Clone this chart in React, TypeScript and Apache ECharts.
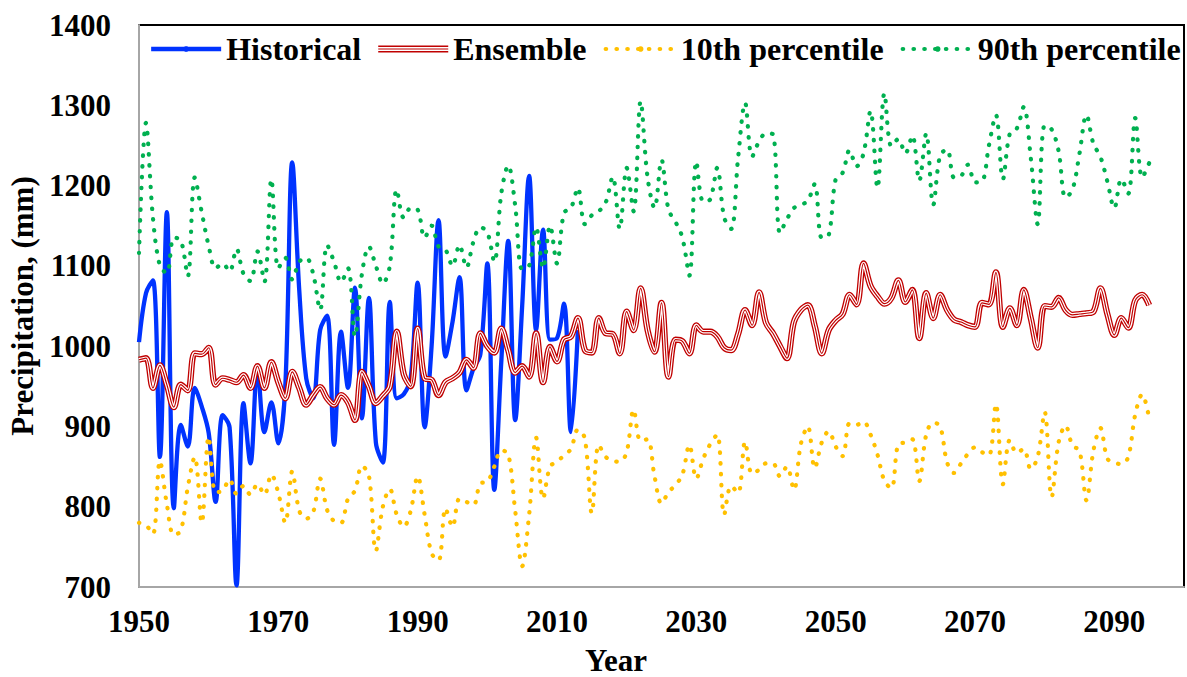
import React, { useEffect, useRef } from "react";
import * as echarts from "echarts";

const START_YEAR = 1950;

// Historical (1950–2013)
const historical = [
  1005, 1066, 1082, 862, 1167, 798, 902, 875, 948, 925,
  892, 806, 914, 899, 702, 929, 854, 974, 893, 930,
  879, 950, 1229, 1070, 960, 935, 1020, 1038, 877, 1018,
  948, 1073, 910, 1060, 880, 855, 1055, 935, 940, 960,
  1079, 899, 1000, 1157, 987, 1030, 1086, 945, 972, 990,
  1103, 821, 980, 1131, 908, 1050, 1212, 1020, 1145, 1008,
  1010, 1053, 893, 1020,
];

// Ensemble (1950–2095)
const ensemble = [
  983, 985, 948, 976, 952, 924, 952, 945, 991, 990,
  998, 952, 960, 958, 955, 964, 948, 975, 948, 980,
  955, 935, 968, 948, 927, 939, 949, 935, 927, 939,
  930, 908, 968, 950, 929, 938, 950, 1018, 965, 950,
  1022, 960, 958, 939, 955, 960, 967, 983, 973, 1016,
  1000, 992, 1022, 995, 967, 975, 962, 1016, 955, 999,
  981, 1008, 1012, 1035, 995, 992, 1035, 1016, 1015, 991,
  1043, 1020, 1072, 1020, 993, 1054, 962, 1008, 1006, 991,
  1026, 1018, 1018, 1012, 998, 995, 1015, 1045, 1026, 1067,
  1029, 1016, 1000, 985, 1030, 1045, 1051, 1025, 991, 1020,
  1032, 1040, 1064, 1052, 1103, 1075, 1062, 1053, 1060, 1082,
  1055, 1070, 1010, 1066, 1035, 1064, 1045, 1033, 1030, 1026,
  1024, 1054, 1052, 1092, 1024, 1047, 1026, 1070, 1035, 998,
  1050, 1049, 1060, 1045, 1039, 1040, 1041, 1043, 1072, 1040,
  1014, 1035, 1023, 1057, 1064, 1051,
];

// 10th percentile (1950–2095)
const p10 = [
  780, 777, 766, 857, 803, 765, 770, 824, 862, 780,
  887, 818, 820, 834, 816, 826, 815, 828, 815, 840,
  817, 780, 844, 795, 785, 793, 835, 796, 782, 780,
  810, 820, 851, 839, 745, 800, 822, 790, 775, 795,
  838, 790, 742, 733, 798, 775, 810, 806, 802, 829,
  831, 850, 870, 866, 795, 726, 790, 886, 810, 850,
  856, 864, 872, 896, 885, 792, 877, 862, 857, 856,
  868, 921, 882, 884, 838, 804, 818, 827, 840, 877,
  835, 860, 878, 890, 790, 826, 817, 881, 841, 846,
  854, 854, 838, 850, 821, 878, 900, 848, 880, 894,
  875, 863, 904, 902, 906, 890, 865, 832, 823, 878,
  880, 884, 832, 890, 905, 900, 855, 842, 854, 866,
  874, 868, 864, 928, 828, 883, 867, 872, 847, 862,
  918, 812, 880, 901, 876, 870, 808, 870, 898, 860,
  855, 853, 862, 915, 940, 910,
];

// 90th percentile (1950–2095)
const p90 = [
  1116, 1278, 1160, 1100, 1091, 1135, 1132, 1087, 1210, 1167,
  1125, 1097, 1103, 1093, 1121, 1090, 1081, 1118, 1080, 1208,
  1097, 1110, 1083, 1105, 1110, 1090, 1045, 1126, 1105, 1080,
  1097, 1012, 1090, 1124, 1100, 1078, 1100, 1195, 1160, 1172,
  1170, 1135, 1150, 1124, 1120, 1100, 1126, 1098, 1130, 1148,
  1142, 1105, 1190, 1225, 1175, 1096, 1100, 1148, 1097, 1150,
  1103, 1166, 1172, 1197, 1152, 1163, 1168, 1179, 1211, 1146,
  1222, 1168, 1305, 1210, 1172, 1232, 1170, 1155, 1135, 1088,
  1230, 1180, 1183, 1222, 1160, 1146, 1235, 1303, 1236, 1255,
  1265, 1264, 1141, 1158, 1172, 1176, 1181, 1202, 1135, 1138,
  1208, 1216, 1244, 1224, 1240, 1293, 1197, 1315, 1249, 1258,
  1240, 1262, 1206, 1265, 1176, 1238, 1245, 1210, 1212, 1226,
  1204, 1205, 1250, 1288, 1208, 1265, 1271, 1298, 1235, 1152,
  1275, 1270, 1243, 1185, 1195, 1240, 1288, 1252, 1236, 1205,
  1172, 1208, 1190, 1284, 1210, 1228,
];

const X_MIN = 1950;
const X_MAX = 2100;
const X_STEP = 20;
const Y_MIN = 700;
const Y_MAX = 1400;
const Y_STEP = 100;

const toPairs = (vals: number[]) => vals.map((v, i) => [START_YEAR + i, v]);

const FONT = "Liberation Serif";
const SMOOTH = 0.35;

export default function App() {
  const ref = useRef<HTMLDivElement>(null);

  useEffect(() => {
    document.body.style.margin = "0";
    const chart = echarts.init(ref.current as HTMLDivElement, null, { renderer: "svg" });
    const dotted = (color: string) => ({
      color,
      width: 4.2,
      type: [0.5, 10.3],
      cap: "round",
    });
    const plain = (v: number) => String(v);
    chart.setOption({
      animation: false,
      backgroundColor: "#ffffff",
      textStyle: { fontFamily: FONT },
      grid: {
        left: 139,
        top: 25,
        right: 3,
        bottom: 90,
        containLabel: false,
        outerBoundsMode: "none",
        show: true,
        borderColor: "#000000",
        borderWidth: 2,
        backgroundColor: "transparent",
      },
      legend: {
        left: 149,
        top: 33,
        width: 1100,
        itemWidth: 70,
        itemHeight: 7,
        itemGap: 17,
        padding: 0,
        textStyle: { fontFamily: FONT, fontWeight: "bold", fontSize: 32, color: "#000" },
        lineStyle: { width: "inherit" },
        data: [
          "Historical",
          {
            name: "Ensemble",
            icon: "path://M0,0H70V7H0Z M0,1.4V5.6H70V1.4Z M0,2.9H70V4.1H0Z",
            itemStyle: { color: "#C00000", borderWidth: 0 },
          },
          "10th percentile",
          "90th percentile",
        ],
      },
      xAxis: {
        type: "value",
        min: X_MIN,
        max: X_MAX,
        interval: X_STEP,
        axisLine: { show: true, lineStyle: { color: "#A6A6A6", width: 2 } },
        axisTick: { show: false },
        splitLine: { show: false },
        axisLabel: {
          showMaxLabel: false,
          margin: 19,
          formatter: plain,
          fontFamily: FONT,
          fontWeight: "bold",
          fontSize: 31,
          color: "#000",
        },
      },
      yAxis: {
        type: "value",
        min: Y_MIN,
        max: Y_MAX,
        interval: Y_STEP,
        name: "Precipitation, (mm)",
        nameLocation: "middle",
        nameGap: 94,
        nameTextStyle: { fontFamily: FONT, fontWeight: "bold", fontSize: 31, color: "#000" },
        axisLine: { show: true, lineStyle: { color: "#A6A6A6", width: 2 } },
        axisTick: { show: false },
        splitLine: { show: false },
        axisLabel: {
          margin: 28,
          formatter: plain,
          fontFamily: FONT,
          fontWeight: "bold",
          fontSize: 31,
          color: "#000",
        },
      },
      graphic: [
        {
          type: "text",
          x: 616,
          y: 660,
          style: {
            text: "Year",
            font: `bold 31px "${FONT}"`,
            fill: "#000",
            align: "center",
            verticalAlign: "middle",
            textAlign: "center",
            textVerticalAlign: "middle",
          },
        },
      ],
      series: [
        {
          name: "Historical",
          type: "line",
          data: toPairs(historical),
          smooth: SMOOTH,
          symbol: "none",
          color: "#0033FF",
          lineStyle: { color: "#0033FF", width: 4.3 },
        },
        {
          name: "Ensemble",
          type: "line",
          data: toPairs(ensemble),
          smooth: SMOOTH,
          symbol: "none",
          color: "#C00000",
          lineStyle: { color: "#C00000", width: 6.2 },
        },
        {
          name: "ens-gap",
          type: "line",
          data: toPairs(ensemble),
          smooth: SMOOTH,
          symbol: "none",
          silent: true,
          color: "#ffffff",
          lineStyle: { color: "#ffffff", width: 3.6 },
        },
        {
          name: "ens-core",
          type: "line",
          data: toPairs(ensemble),
          smooth: SMOOTH,
          symbol: "none",
          silent: true,
          color: "#C00000",
          lineStyle: { color: "#C00000", width: 1.2 },
        },
        {
          name: "10th percentile",
          type: "line",
          data: toPairs(p10),
          smooth: SMOOTH,
          symbol: "none",
          color: "#FFC000",
          lineStyle: dotted("#FFC000"),
        },
        {
          name: "90th percentile",
          type: "line",
          data: toPairs(p90),
          smooth: SMOOTH,
          symbol: "none",
          color: "#00B050",
          lineStyle: dotted("#00B050"),
        },
      ],
    });
    return () => chart.dispose();
  }, []);

  return <div ref={ref} style={{ width: 1187, height: 677 }} />;
}
